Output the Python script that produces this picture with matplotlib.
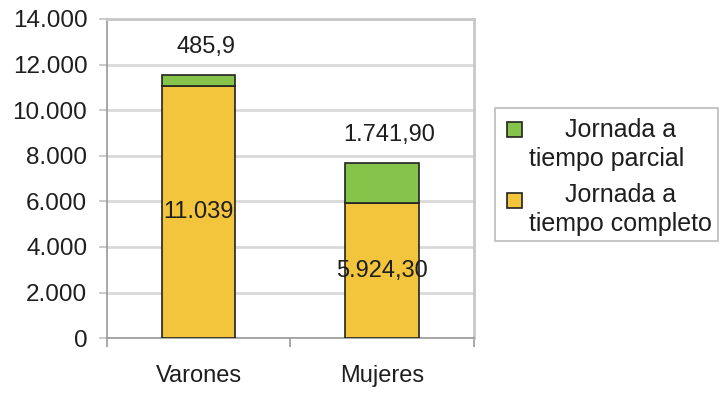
import matplotlib.pyplot as plt
from matplotlib.patches import Rectangle
import numpy as np

plt.rcParams['font.family'] = ['Liberation Sans', 'DejaVu Sans']

categories = ["Varones", "Mujeres"]
completo = [11039, 5924.3]
parcial = [485.9, 1741.9]
completo_labels = ["11.039", "5.924,30"]
parcial_labels = ["485,9", "1.741,90"]
yticks = [0, 2000, 4000, 6000, 8000, 10000, 12000, 14000]
ytick_labels = ["0", "2.000", "4.000", "6.000", "8.000", "10.000", "12.000", "14.000"]
legend_lines = [("Jornada a", "tiempo parcial"), ("Jornada a", "tiempo completo")]

green = "#86c34a"
yellow = "#f2c53c"
txt = "#1e1e1e"

W, H = 721, 395
fig = plt.figure(figsize=(W / 100, H / 100), dpi=100)
ax = fig.add_axes([0.148, 0.144, 0.509, 0.808])


def fx(px):
    return px / W


def fy(py):
    return 1 - py / H


x = np.arange(len(categories))
ax.bar(x, completo, width=0.4, color=yellow, edgecolor="#222222", linewidth=1.2, zorder=3)
ax.bar(x, parcial, width=0.4, bottom=completo, color=green, edgecolor="#222222",
       linewidth=1.2, zorder=3)

for i in range(len(categories)):
    ax.text(x[i], completo[i] / 2, completo_labels[i], ha="center", va="center",
            fontsize=17, color=txt, zorder=4)
    ax.text(x[i] + 0.04, completo[i] + parcial[i] + 1250, parcial_labels[i], ha="center",
            va="center", fontsize=17, color=txt, zorder=4)

ax.set_xlim(-0.5, 1.5)
ax.set_ylim(0, 14000)
ax.set_yticks(yticks)
ax.set_yticklabels(ytick_labels, fontsize=17.5, color=txt)
ax.set_xticks(x)
ax.set_xticklabels(categories, fontsize=17, color=txt)
ax.set_xticks([-0.5, 0.5, 1.5], minor=True)
ax.tick_params(axis="x", which="major", length=0, pad=19)
ax.tick_params(axis="x", which="minor", length=6.5, color="#999999", width=1.2)
ax.tick_params(axis="y", length=6, color="#cccccc", width=1.5, pad=8)

ax.yaxis.grid(True, color="#d9d9d9", linewidth=2, zorder=0)
ax.set_axisbelow(True)
for side in ["top", "right"]:
    ax.spines[side].set_color("#c8c8c8")
    ax.spines[side].set_linewidth(2)
ax.spines["left"].set_color("#999999")
ax.spines["bottom"].set_color("#999999")
ax.spines["left"].set_linewidth(1.2)
ax.spines["bottom"].set_linewidth(1.2)

# legend box, drawn by hand so the swatch sits next to the first line
fig.add_artist(Rectangle((fx(495), fy(241)), fx(718) - fx(495), fy(108) - fy(241),
                         transform=fig.transFigure, facecolor="white",
                         edgecolor="#bbbbbb", linewidth=1.2))
swatches = [(green, 122), (yellow, 193)]
baselines = [(137, 166), (202, 231)]
for (col, top), (l1, l2), (b1, b2) in zip(swatches, legend_lines, baselines):
    fig.add_artist(Rectangle((fx(507), fy(top + 15)), fx(15), fy(0) - fy(15),
                             transform=fig.transFigure, facecolor=col,
                             edgecolor="#222222", linewidth=1.2))
    fig.text(fx(621), fy(b1), l1, ha="center", va="baseline", fontsize=18, color=txt)
    fig.text(fx(529), fy(b2), l2, ha="left", va="baseline", fontsize=18, color=txt)

fig.savefig("out.png", dpi=100)
